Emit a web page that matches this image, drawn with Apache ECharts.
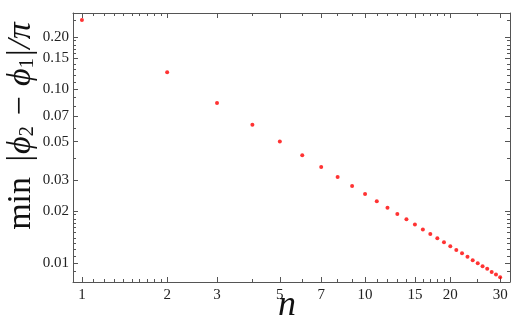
<!DOCTYPE html>
<html lang="en">
<head>
<meta charset="UTF-8">
<title>min gap vs n</title>
<style>
  html, body { margin: 0; padding: 0; background: #fff; }
  #chart { width: 513px; height: 319px; }
</style>
</head>
<body>
<div id="chart"></div>
<script src="https://cdn.jsdelivr.net/npm/echarts@6/dist/echarts.min.js"></script>
<script>
// n values and the measured minimum gap
var nValues = [1, 2, 3, 4, 5, 6, 7, 8, 9, 10, 11, 12, 13, 14, 15,
               16, 17, 18, 19, 20, 21, 22, 23, 24, 25, 26, 27, 28, 29, 30];
var gapValues = [0.25, 0.125, 0.0833, 0.0625, 0.05, 0.0417, 0.0357, 0.0313, 0.0278, 0.025,
                 0.0227, 0.0208, 0.0192, 0.0179, 0.0167, 0.0156, 0.0147, 0.0139, 0.0132, 0.0125,
                 0.0119, 0.0114, 0.0109, 0.0104, 0.01, 0.0096, 0.0093, 0.0089, 0.0086, 0.0083];

// ticks
var xMajor = [1, 2, 3, 5, 7, 10, 15, 20, 30];
var xMinor = [1.1, 1.2, 1.3, 1.4, 1.5, 1.6, 1.7, 1.8, 1.9, 4, 6, 8, 9,
              11, 12, 13, 14, 16, 17, 18, 19, 25];
var yMajor = [0.01, 0.02, 0.03, 0.05, 0.07, 0.10, 0.15, 0.20];
var yMinor = [0.009, 0.011, 0.012, 0.013, 0.014, 0.015, 0.016, 0.017, 0.018, 0.019,
              0.04, 0.06, 0.08, 0.09, 0.11, 0.12, 0.13, 0.14, 0.16, 0.17, 0.18, 0.19, 0.25];

var xMin = 0.93, xMax = 32.5;
var yMin = 0.0078, yMax = 0.274;

var frameColor = '#555';
var labelFont = { fontFamily: 'Liberation Serif', fontSize: 15, color: '#222' };

function xAx(pos, vals, len, withLabel, withLine) {
    return {
        type: 'log', position: pos, min: xMin, max: xMax,
        axisLine: { show: withLine, lineStyle: { color: frameColor, width: 1 } },
        axisTick: { inside: true, length: len, customValues: vals, lineStyle: { color: frameColor } },
        axisLabel: withLabel ? Object.assign({ customValues: vals, margin: 6,
            formatter: function (v) { return String(Math.round(v)); } }, labelFont) : { show: false },
        splitLine: { show: false }, minorTick: { show: false }
    };
}
function yAx(pos, vals, len, withLabel, withLine) {
    return {
        type: 'log', position: pos, min: yMin, max: yMax,
        axisLine: { show: withLine, lineStyle: { color: frameColor, width: 1 } },
        axisTick: { inside: true, length: len, customValues: vals, lineStyle: { color: frameColor } },
        axisLabel: withLabel ? Object.assign({ customValues: vals, margin: 4,
            formatter: function (v) { return v.toFixed(2); } }, labelFont) : { show: false },
        splitLine: { show: false }, minorTick: { show: false }
    };
}

// axis titles drawn as graphic text so they can sit at the page edges
var yTitle = '{m|min}{t| |ϕ}{s|2}{t| − ϕ}{s|1}{t||/π}';
var xTitle = 'n';

var chart = echarts.init(document.getElementById('chart'));
chart.setOption({
    animation: false,
    backgroundColor: '#fff',
    grid: { left: 73, right: 3, top: 13, bottom: 37, outerBoundsMode: 'none', containLabel: false },
    xAxis: [
        xAx('bottom', xMajor, 5, true, true),
        xAx('bottom', xMinor, 3, false, false),
        xAx('top', xMajor, 5, false, true),
        xAx('top', xMinor, 3, false, false)
    ],
    yAxis: [
        yAx('left', yMajor, 5, true, true),
        yAx('left', yMinor, 3, false, false),
        yAx('right', yMajor, 5, false, true),
        yAx('right', yMinor, 3, false, false)
    ],
    graphic: [
        {
            type: 'text', x: 21, y: 126, rotation: Math.PI / 2,
            style: {
                text: yTitle, align: 'center', verticalAlign: 'middle', fill: '#111',
                rich: {
                    m: { fontFamily: 'Liberation Serif', fontSize: 34, fill: '#111', padding: [0, 5, 0, 0] },
                    t: { fontFamily: 'Liberation Serif', fontStyle: 'italic', fontSize: 34, fill: '#111' },
                    s: { fontFamily: 'Liberation Serif', fontSize: 21, fill: '#111', verticalAlign: 'bottom', padding: [13, 0, 0, 0] }
                }
            }
        },
        {
            type: 'text', x: 287, y: 306,
            style: {
                text: xTitle, align: 'center', verticalAlign: 'middle', fill: '#111',
                fontFamily: 'Liberation Serif', fontStyle: 'italic', fontSize: 36
            }
        }
    ],
    series: [{
        type: 'scatter',
        xAxisIndex: 0,
        yAxisIndex: 0,
        symbolSize: 4,
        itemStyle: { color: '#ff0000' },
        data: nValues.map(function (n, i) { return [n, gapValues[i]]; })
    }]
});
</script>
</body>
</html>
